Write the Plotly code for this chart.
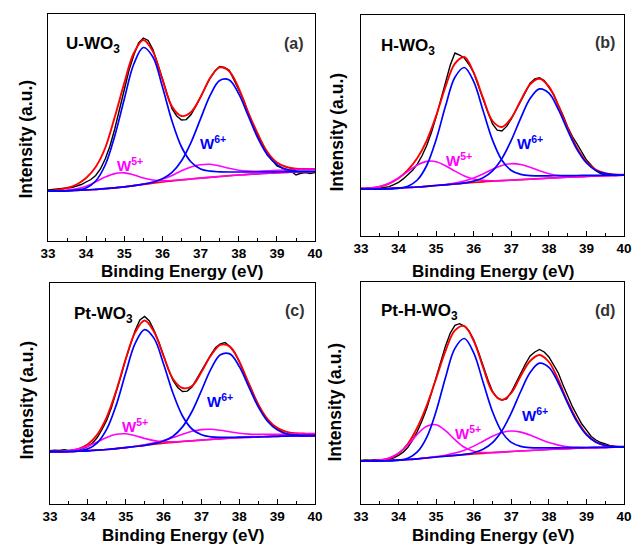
import plotly.graph_objects as go

W, H = 637, 546

# ---------------- data ----------------
E = [33.0, 33.25, 33.5, 33.75, 34.0, 34.25, 34.5, 34.75, 35.0, 35.25, 35.5, 35.75, 36.0, 36.25,
     36.5, 36.75, 37.0, 37.25, 37.5, 37.75, 38.0, 38.25, 38.5, 38.75, 39.0, 39.25, 39.5, 39.75, 40.0]

E_raw = [33.0, 33.125, 33.25, 33.375, 33.5, 33.625, 33.75, 33.875, 34.0, 34.125, 34.25, 34.375,
         34.5, 34.625, 34.75, 34.875, 35.0, 35.125, 35.25, 35.375, 35.5, 35.625, 35.75, 35.875,
         36.0, 36.125, 36.25, 36.375, 36.5, 36.625, 36.75, 36.875, 37.0, 37.125, 37.25, 37.375,
         37.5, 37.625, 37.75, 37.875, 38.0, 38.125, 38.25, 38.375, 38.5, 38.625, 38.75, 38.875,
         39.0, 39.125, 39.25, 39.375, 39.5, 39.625, 39.75, 39.875, 40.0]

# (a) U-WO3
a_raw = [51, 51.5, 52, 52.3, 53, 53.5, 55, 56.5, 59, 61.5, 65.5, 72, 82, 95, 112, 131,
         151, 171, 186, 198, 203, 200.5, 191.4, 178, 162.4, 146.5, 132.4, 125, 121, 121.4, 126.5, 134.8,
         144, 153.5, 163, 170, 174.6, 173.5, 170.8, 161, 151.7, 141.3, 127.5, 115.5, 105, 96.5, 86, 81,
         75, 73.2, 70, 69.8, 66, 67.7, 68.5, 67.5, 68.5]
a_fit = [50, 51, 53, 56.5, 63, 74, 93, 124, 158, 188, 201, 189.4, 161.4, 134.4, 125, 129, 144,
         163, 173.6, 169.8, 152.7, 128.5, 107, 89, 78.5, 74, 72.3, 72, 72]
a_bg = [50, 50, 50.3, 50.7, 51, 51.6, 52.3, 53.2, 54.2, 55.3, 56.5, 57.8, 59, 60.1, 61.1, 62, 62.9, 63.7,
        64.5, 65.3, 66, 66.6, 67.2, 67.7, 68.2, 68.6, 69, 69.3, 69.5]
a_w6a = [50, 50, 50, 51, 53, 60, 76, 105, 142, 177, 193.5, 184, 154, 120, 94, 79, 72, 69.8, 69.2, 69, 69,
         69, 69, 69.1, 69.2, 69.3, 69.4, 69.5, 69.5]
a_w6b = [50, 50, 50.3, 50.7, 51, 51.6, 52.3, 53.2, 54.2, 55.3, 56.8, 58.8, 62.2, 68.6, 80.3, 98.7, 122.4,
         145.7, 160.6, 161.1, 147.2, 125.1, 103, 86.3, 76.4, 71.7, 70, 69.6, 69.5]
a_w5a = [50, 50.1, 50.8, 52.3, 54.8, 59.1, 63.9, 67.4, 68.1, 66.1, 63.1, 61, 60.3, 60.5, 61.2, 62, 62.9,
         63.7, 64.5, 65.3, 66, 66.6, 67.2, 67.7, 68.2, 68.6, 69, 69.3, 69.5]
a_w5b = [50, 50, 50.3, 50.7, 51, 51.6, 52.3, 53.2, 54.2, 55.4, 56.9, 59, 61.9, 65.6, 70.2, 74.1, 76.2,
         76.7, 75, 72.7, 70.8, 69.9, 69.8, 70.1, 70.7, 71.1, 71.5, 71.8, 72]

# (b) H-WO3
b_raw = [48.8, 48.5, 49.4, 48.5, 48.8, 49.7, 50.4, 52.4, 54.7, 58.1, 62, 66.7, 72.9, 81.2, 91.4, 104.4,
         120.1, 137.8, 156.3, 171.8, 184, 182, 179, 172.5, 164.3, 150.8, 137.9, 124.8, 113, 106.8, 106,
         110.6, 118, 126.6, 136.5, 144.5, 153.7, 158.1, 159.2, 156.5, 149.3, 142.6, 131.6, 121.8, 109.9,
         100.5, 93, 84.5, 77, 71.7, 66.3, 63.3, 62.3, 62.1, 61.5, 61.8, 61.7]
b_fit = [48.3, 48.9, 50.3, 53.4, 58.7, 67, 78.9, 96.4, 121.1, 150.3, 173.4, 180, 164.3, 138.9, 116, 110,
         119, 136.5, 152.7, 158.2, 150.3, 131.6, 108.9, 89, 75, 67.3, 63.8, 62.5, 62.2]
b_bg = [48, 48, 48.2, 48.5, 49, 49.5, 50, 50.7, 51.5, 52.2, 53, 53.8, 54.5, 55.2, 55.8, 56.3, 56.8, 57.3,
        57.8, 58.3, 58.8, 59.3, 59.8, 60.2, 60.6, 61, 61.3, 61.6, 61.8]
b_w6a = [48, 48, 48, 48.1, 48.7, 50.8, 57, 71.5, 97.3, 130.9, 159.7, 169.5, 155.3, 126.2, 96.9, 76.8, 66.5,
         62.6, 61.3, 61.2, 61.2, 61.3, 61.4, 61.5, 61.6, 61.7, 61.8, 61.8, 61.8]
b_w6b = [48, 48, 48.2, 48.5, 49, 49.5, 50, 50.7, 51.5, 52.2, 53, 54.2, 55.9, 59.3, 66.2, 78.4, 96.8, 118.9,
         138.4, 148.1, 143.8, 127.6, 106.5, 87.4, 74, 66.6, 63.3, 62.2, 62]
b_w5a = [48.3, 48.9, 50.5, 53.8, 59, 65.7, 71.9, 75.6, 75.3, 71.3, 65.9, 61.1, 58, 56.6, 56.3, 56.4, 56.8,
         57.3, 57.8, 58.3, 58.8, 59.3, 59.8, 60.2, 60.6, 61, 61.3, 61.6, 61.8]
b_w5b = [48, 48, 48.2, 48.5, 49, 49.5, 50, 50.7, 51.5, 52.5, 53.9, 56, 59, 63.1, 67.7, 71.5, 73.3, 72.5,
         69.7, 66.2, 63.3, 61.5, 60.7, 60.5, 60.7, 61, 61.3, 61.6, 61.8]

# (c) Pt-WO3
c_raw = [53.4, 53.9, 53.5, 54.2, 53.6, 53.9, 54.1, 55.5, 57.7, 61, 66.5, 74.5, 83.9, 96.5, 111.2, 128,
         144.8, 160.5, 173.6, 184, 187.5, 183, 173.5, 162, 148, 134.8, 123.5, 116.5, 112.5, 112.9, 117,
         125.3, 133.5, 141.8, 149.5, 156.5, 160.1, 161.5, 157.4, 151.5, 142.4, 130.8, 120.5, 108.5, 99.1,
         90.5, 83.7, 78.5, 75.1, 71.8, 69.1, 69.3, 69.8, 69.1, 69.9, 69.8, 70.3]
c_fit = [52.4, 52.5, 53.1, 55.1, 59.7, 69.5, 86.9, 113.2, 144.8, 171.6, 183.5, 172, 148, 125, 116, 118, 132,
         148.5, 159.1, 157.4, 142.4, 120.5, 99.6, 84.7, 76.1, 72.1, 70.8, 70.4, 70.3]
c_bg = [52.3, 52.3, 52.5, 52.8, 53.2, 53.8, 54.5, 55.4, 56.4, 57.5, 58.7, 59.8, 60.8, 61.7, 62.5, 63.2,
        63.9, 64.6, 65.2, 65.8, 66.3, 66.7, 67.1, 67.4, 67.7, 67.9, 68.1, 68.2, 68.3]
c_w6a = [52.3, 52.3, 52.3, 53, 55.1, 61.2, 74.8, 98.9, 131, 160.6, 174.4, 165.6, 140, 110.7, 88, 75, 69.3,
         67.2, 66.6, 66.7, 66.8, 66.9, 67.1, 67.4, 67.7, 67.9, 68.1, 68.2, 68.3]
c_w6b = [52.3, 52.3, 52.5, 52.8, 53.2, 53.8, 54.5, 55.4, 56.4, 57.5, 58.7, 60.4, 63, 67.8, 77.1, 92.5,
         113.4, 134.9, 149.2, 150.1, 137.4, 117.1, 97.1, 82.5, 74.1, 70.1, 68.8, 68.4, 68.3]
c_w5a = [52.4, 52.5, 53.3, 54.9, 57.8, 62.1, 66.6, 69.7, 70.2, 68.3, 65.6, 63.4, 62.3, 62.2, 62.6, 63.2,
         63.9, 64.6, 65.2, 65.8, 66.3, 66.7, 67.1, 67.4, 67.7, 67.9, 68.1, 68.2, 68.3]
c_w5b = [52.3, 52.3, 52.5, 52.8, 53.2, 53.8, 54.5, 55.4, 56.4, 57.7, 59.2, 61.1, 63.5, 66.5, 69.8, 72.7,
         74.4, 74.7, 73.7, 72.2, 70.8, 69.9, 69.6, 69.6, 69.7, 69.9, 70.1, 70.2, 70.3]

# (d) Pt-H-WO3
d_raw = [43.5, 44.1, 43.7, 44.4, 44.2, 44.4, 44.5, 46.2, 48.5, 51.9, 56.8, 63.8, 72.5, 83.2, 95.5, 110.8,
         126.3, 142.6, 158.1, 170.8, 178.6, 180.3, 177.9, 173.1, 164.1, 152, 137.5, 124.5, 112.5, 106, 104,
         105.2, 112, 121.8, 131, 140, 148, 152, 154.5, 152, 147, 139.5, 131, 119, 108, 97.3, 88.5, 80,
         73.8, 67.5, 64, 61.5, 60.1, 58.4, 57.9, 57.7, 57.5]
d_fit = [43, 43.2, 43.7, 45.5, 50.5, 60.3, 76.5, 98.5, 125.3, 153.1, 173.6, 177.9, 163.1, 136.5, 112, 104,
         111, 128, 143, 149, 142, 124, 102, 83.5, 69.8, 62, 58.6, 57.4, 57]
d_bg = [43, 43, 43.2, 43.5, 44, 44.5, 45.2, 46, 47, 47.8, 48.6, 49.3, 50, 50.7, 51.3, 51.9, 52.5, 53, 53.5,
        54, 54.5, 55, 55.4, 55.8, 56.1, 56.4, 56.6, 56.8, 57]
d_w6a = [43, 43, 43, 43.1, 43.7, 45.8, 52.1, 66.7, 92.7, 126.6, 155.6, 165.5, 151.1, 121.7, 92.2, 71.9,
         61.6, 57.6, 56.3, 56.1, 56.1, 56.2, 56.3, 56.4, 56.5, 56.6, 56.7, 56.8, 57]
d_w6b = [43, 43, 43.2, 43.5, 44, 44.5, 45.2, 46, 47, 47.8, 48.6, 49.7, 51.3, 54.7, 61.3, 73.2, 91.1, 112.5,
         131.5, 140.8, 136.6, 121, 100.6, 82.1, 69.1, 61.8, 58.5, 57.4, 57.1]
d_w5a = [43, 43.2, 43.9, 45.9, 50.8, 59, 69.6, 77.7, 79.2, 73.3, 64.3, 56.8, 52.8, 51.5, 51.5, 51.9, 52.5,
         53, 53.5, 54, 54.5, 55, 55.4, 55.8, 56.1, 56.4, 56.6, 56.8, 57]
d_w5b = [43, 43, 43.2, 43.5, 44, 44.5, 45.2, 46.1, 47.4, 48.8, 50.9, 53.8, 57.9, 62.8, 67.7, 71.4, 73,
         71.9, 68.9, 65, 61.4, 58.9, 57.3, 56.6, 56.4, 56.4, 56.6, 56.8, 57]

panel_names = ["U-WO<sub>3</sub>", "H-WO<sub>3</sub>", "Pt-WO<sub>3</sub>", "Pt-H-WO<sub>3</sub>"]
panel_tags = ["(a)", "(b)", "(c)", "(d)"]
x_ticks = [33, 34, 35, 36, 37, 38, 39, 40]

# ---------------- layout geometry (pixels) ----------------
# left, right, top, bottom of each plot box
boxes = [(41, 315, 14, 241), (362, 632, 15, 236), (43, 315, 283, 504), (362, 632, 282, 504)]
yranges = [[0, 227], [1, 222], [0, 221], [0, 222]]

panels = [
    (a_raw, a_fit, a_bg, a_w6a, a_w6b, a_w5a, a_w5b),
    (b_raw, b_fit, b_bg, b_w6a, b_w6b, b_w5a, b_w5b),
    (c_raw, c_fit, c_bg, c_w6a, c_w6b, c_w5a, c_w5b),
    (d_raw, d_fit, d_bg, d_w6a, d_w6b, d_w5a, d_w5b),
]

# annotation positions in data coords
name_pos = [(33.43, 196), (33.47, 190), (33.57, 189), (33.47, 192)]
tag_pos = [(39.75, 198), (39.82, 195), (39.79, 194), (39.82, 194)]
w5_pos = [(34.76, 77), (35.2, 78), (34.85, 79), (35.46, 72)]
w6_pos = [(36.93, 99), (37.1, 95), (37.09, 104), (37.23, 90)]
ytitle_pos = [(18, 139), (337, 132), (20, 400), (335, 402)]
xtitle_y = [271, 271, 535, 535]

BLACK = "#000000"
RED = "#ff0000"
BLUE = "#0000ff"
MAG = "#ff00ff"
FONT = "Liberation Sans"

fig = go.Figure()
annotations = []
layout_axes = {}

for i, (raw, fit, bg, w6a, w6b, w5a, w5b) in enumerate(panels):
    k = "" if i == 0 else str(i + 1)
    xr, yr = "x" + k, "y" + k
    l, r, t, b = boxes[i]

    def add(xs, ys, color, width, shape="spline"):
        fig.add_trace(go.Scatter(x=xs, y=ys, mode="lines", xaxis=xr, yaxis=yr,
                                 line=dict(color=color, width=width, shape=shape),
                                 hoverinfo="skip", showlegend=False))

    add(E_raw, raw, BLACK, 1.4, "linear")
    add(E, fit, RED, 1.9)
    add(E, bg, RED, 1.7)
    add(E, w5a, MAG, 1.6)
    add(E, w5b, MAG, 1.6)
    add(E, w6a, BLUE, 1.7)
    add(E, w6b, BLUE, 1.7)

    layout_axes["xaxis" + k] = dict(
        domain=[l / W, r / W], range=[33, 40], anchor=yr,
        showline=True, linecolor="black", linewidth=1.3, mirror=True,
        ticks="inside", ticklen=5, tickwidth=1.3, tickcolor="black",
        tickmode="array", tickvals=x_ticks, ticktext=[str(v) for v in x_ticks],
        minor=dict(ticks="inside", ticklen=3, tickwidth=1.2, tickcolor="black", dtick=0.5, tick0=33),
        showgrid=False, zeroline=False,
        tickfont=dict(family=FONT, size=13.5, color="black", weight="bold"),
        fixedrange=True,
    )
    layout_axes["yaxis" + k] = dict(
        domain=[1 - b / H, 1 - t / H], range=yranges[i], anchor=xr,
        showline=True, linecolor="black", linewidth=1.3, mirror=True,
        ticks="", showticklabels=False, showgrid=False, zeroline=False, fixedrange=True,
    )

    annotations.append(dict(x=name_pos[i][0], y=name_pos[i][1], xref=xr, yref=yr, text=panel_names[i],
                            showarrow=False, xanchor="left", yanchor="middle",
                            font=dict(family=FONT, size=17, color="black", weight="bold")))
    annotations.append(dict(x=tag_pos[i][0], y=tag_pos[i][1], xref=xr, yref=yr, text=panel_tags[i],
                            showarrow=False, xanchor="right", yanchor="middle",
                            font=dict(family=FONT, size=16, color="#333333", weight="bold")))
    annotations.append(dict(x=w5_pos[i][0], y=w5_pos[i][1], xref=xr, yref=yr, text="W<sup>5+</sup>",
                            showarrow=False, xanchor="left", yanchor="middle",
                            font=dict(family=FONT, size=15, color=MAG, weight="bold")))
    annotations.append(dict(x=w6_pos[i][0], y=w6_pos[i][1], xref=xr, yref=yr, text="W<sup>6+</sup>",
                            showarrow=False, xanchor="left", yanchor="middle",
                            font=dict(family=FONT, size=15, color=BLUE, weight="bold")))
    annotations.append(dict(x=ytitle_pos[i][0] / W, y=1 - ytitle_pos[i][1] / H, xref="paper", yref="paper",
                            text="Intensity (a.u.)", textangle=-90, showarrow=False,
                            xanchor="center", yanchor="middle",
                            font=dict(family=FONT, size=17.5, color="black", weight="bold")))
    annotations.append(dict(x=(l + r) / 2 / W, y=1 - xtitle_y[i] / H, xref="paper", yref="paper",
                            text="Binding Energy (eV)", showarrow=False,
                            xanchor="center", yanchor="middle",
                            font=dict(family=FONT, size=17, color="black", weight="bold")))

fig.update_layout(
    width=W, height=H, margin=dict(l=0, r=0, t=0, b=0),
    paper_bgcolor="white", plot_bgcolor="white",
    showlegend=False, annotations=annotations, **layout_axes,
)

fig.write_html("out.html")
